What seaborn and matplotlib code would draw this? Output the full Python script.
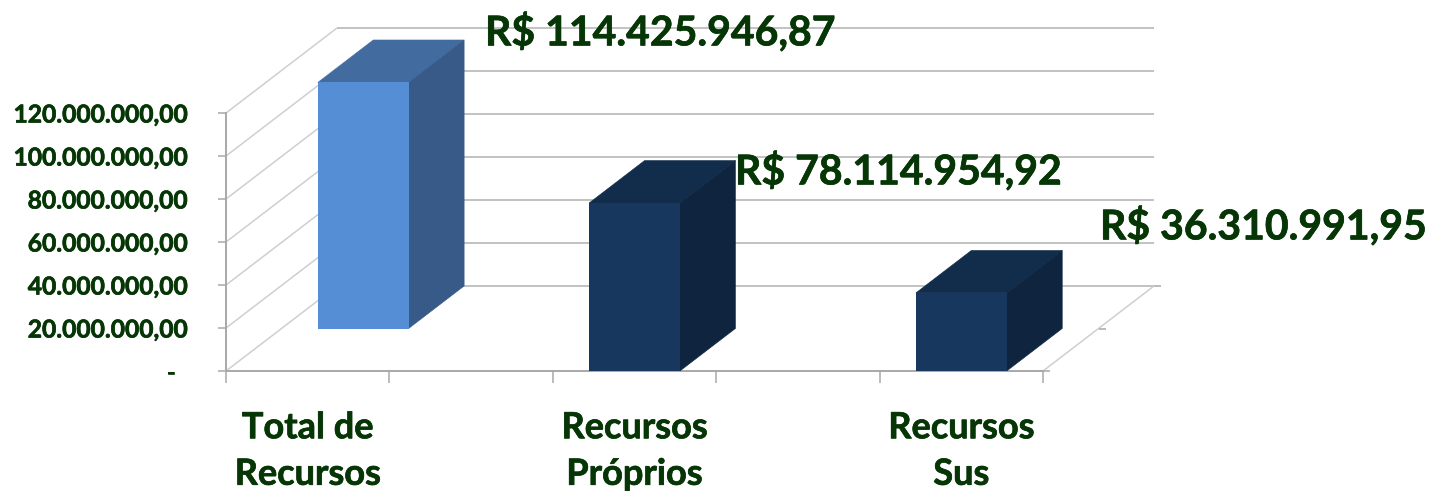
import numpy as np
import pandas as pd
import matplotlib
matplotlib.use("Agg")
import matplotlib.pyplot as plt
import matplotlib.patheffects as pe
import seaborn as sns

categories = ["Total de\nRecursos", "Recursos\nPróprios", "Recursos\nSus"]
values = [114425946.87, 78114954.92, 36310991.95]
y_ticks = [0, 20e6, 40e6, 60e6, 80e6, 100e6, 120e6]
y_tick_labels = ["-  ", "20.000.000,00", "40.000.000,00", "60.000.000,00",
                 "80.000.000,00", "100.000.000,00", "120.000.000,00"]
centers = [0.5, 2.5, 4.5]
depth_rows = [1, 0, 0]
x_ticks = [0, 1, 2, 3, 4, 5]

front_colors = ["#558ED5", "#17375E", "#17375E"]
top_colors = ["#426CA0", "#122C4B", "#122C4B"]
side_colors = ["#375A88", "#0F253F", "#0F253F"]
TEXT = "#063606"
GRID = "#BDBDBD"
AXIS = "#A8A8A8"

W, H = 1433, 491
sns.set_theme(style="white")
plt.rcParams["font.family"] = ["Lato", "DejaVu Sans"]
plt.rcParams["font.weight"] = "bold"

fig = plt.figure(figsize=(W / 100, H / 100), dpi=100, facecolor="white")
left, right, base, top = 226, 1043, 371, 113
ax = fig.add_axes([left / W, (H - base) / H, (right - left) / W, (base - top) / H])
ax.patch.set_alpha(0)

df = pd.DataFrame({"x": centers, "v": values, "c": categories})
sns.barplot(data=df, x="x", y="v", hue="c", palette=front_colors, native_scale=True,
            dodge=False, width=0.278, saturation=1, linewidth=0, legend=False, ax=ax, zorder=3)
ax.set_xlim(0, 5)
ax.set_ylim(0, 120e6)
ax.set_xlabel("")
ax.set_ylabel("")

px_x = (right - left) / 5
px_y = (base - top) / 120e6
DX = 55.5 / px_x        # one depth row, in x units
DY = 42.5 / px_y        # one depth row, in value units


def line(xs, ys, **kw):
    ax.plot(xs, ys, clip_on=False, solid_capstyle="butt", **kw)


# walls and floor
for t in y_ticks:
    line([0, 2 * DX], [t, t + 2 * DY], color="#CFCFCF", lw=1.1, zorder=1)
    line([2 * DX, 5 + 2 * DX], [t + 2 * DY] * 2, color=GRID, lw=1.3, zorder=1)
line([5, 5 + 2 * DX], [0, 2 * DY], color="#CFCFCF", lw=1.1, zorder=1)
for row in (0, 1, 2):
    x0, y0 = 5 + row * DX, row * DY
    line([x0, x0 + 7 / px_x], [y0, y0], color=AXIS, lw=1.1, zorder=1)

# bars
patches = sorted(ax.patches, key=lambda p: p.get_x())
for p, row, fc, tc, sc in zip(patches, depth_rows, front_colors, top_colors, side_colors):
    x0 = p.get_x() + row * DX
    w = p.get_width()
    y0 = row * DY
    h = p.get_height()
    p.set_x(x0)
    p.set_y(y0)
    p.set_clip_on(False)
    x1, y1 = x0 + w, y0 + h
    ax.fill([x0, x1, x1 + DX, x0 + DX], [y1, y1, y1 + DY, y1 + DY], facecolor=tc,
            edgecolor=tc, lw=0.4, zorder=2.9, clip_on=False)
    ax.fill([x1, x1 + DX, x1 + DX, x1], [y0, y0 + DY, y1 + DY, y1], facecolor=sc,
            edgecolor=sc, lw=0.4, zorder=2.9, clip_on=False)

# axes
for s in ("top", "right"):
    ax.spines[s].set_visible(False)
for s in ("left", "bottom"):
    ax.spines[s].set_color(AXIS)
    ax.spines[s].set_linewidth(1.4)
    ax.spines[s].set_zorder(2)
ax.set_yticks(y_ticks, y_tick_labels)
ax.set_xticks(x_ticks, [""] * len(x_ticks))
ax.tick_params(axis="y", length=5.8, width=1.1, color=AXIS, pad=22, labelsize=17.7, labelcolor=TEXT, left=True)
ax.tick_params(axis="x", length=8.5, width=1.1, color=AXIS, bottom=True)
ax.set_xticks(centers, categories, minor=True)
ax.tick_params(axis="x", which="minor", length=0, pad=29, labelsize=26, labelcolor=TEXT)
thicken = [pe.withStroke(linewidth=0.5, foreground=TEXT)]
for t in ax.get_xticklabels(minor=True):
    t.set_linespacing(1.5)
    t.set_fontweight("bold")
    t.set_path_effects(thicken)
for t in ax.get_yticklabels():
    t.set_fontweight("bold")
    t.set_path_effects(thicken)


def brl(v):
    s = f"{v:,.2f}".replace(",", "X").replace(".", ",").replace("X", ".")
    return "R$ " + s


label_px = [(485, 33), (735, 172), (1100, 227)]
for v, (lx, ly) in zip(values, label_px):
    fig.text(lx / W, 1 - ly / H, brl(v), ha="left", va="center", fontsize=29.5,
             fontweight="bold", color=TEXT, zorder=10, path_effects=thicken)

fig.savefig("out.png", dpi=100, facecolor="white")
